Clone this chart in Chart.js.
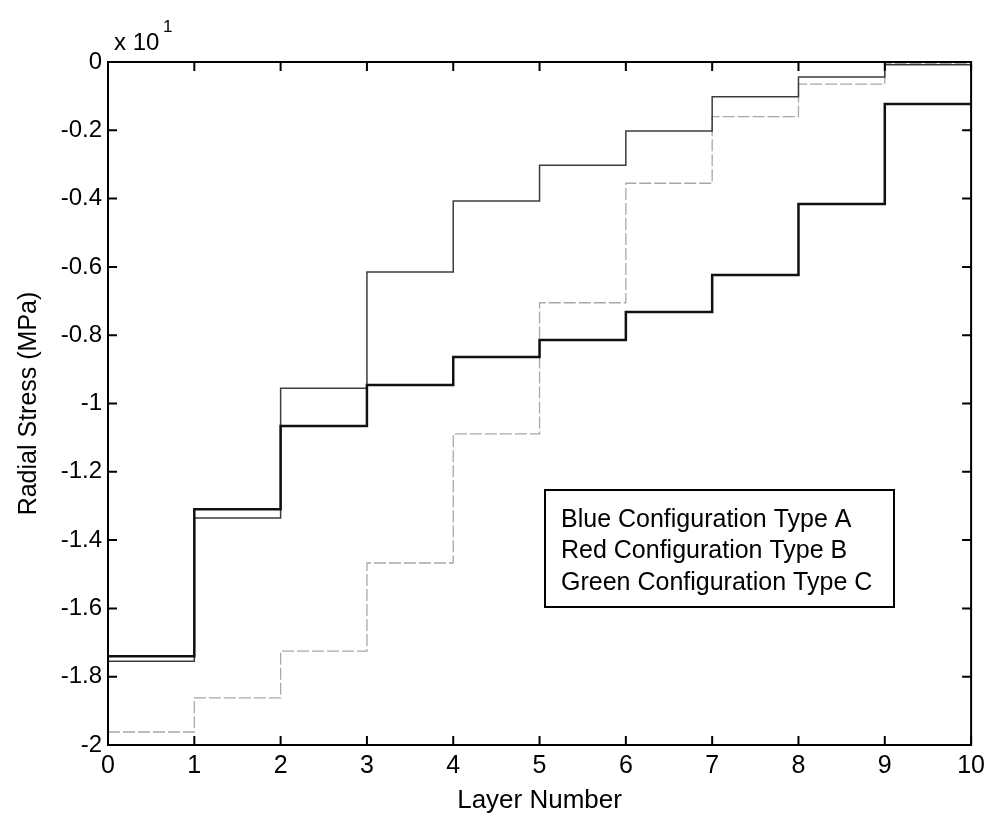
<!DOCTYPE html>
<html>
<head>
<meta charset="utf-8">
<script src="https://cdn.jsdelivr.net/npm/chart.js@4/dist/chart.umd.min.js"></script>
<style>
  html, body { margin: 0; padding: 0; background: #fff; }
  #wrap { width: 991px; height: 814px; }
</style>
</head>
<body>
<div id="wrap"><canvas id="stress"></canvas></div>
<script>
// layer boundaries and stress per layer (x 10 MPa), one value per layer 0..9
const layers = [0, 1, 2, 3, 4, 5, 6, 7, 8, 9, 10];
const typeA = [-1.74, -1.31, -1.066, -0.946, -0.864, -0.814, -0.732, -0.624, -0.416, -0.123];
const typeB = [-1.755, -1.335, -0.955, -0.615, -0.407, -0.302, -0.202, -0.102, -0.044, -0.008];
const typeC = [-1.962, -1.862, -1.725, -1.467, -1.089, -0.705, -0.355, -0.16, -0.065, -0.005];
const legendLabels = ['Blue Configuration Type A', 'Red Configuration Type B', 'Green Configuration Type C'];
const yTicks = [0, -0.2, -0.4, -0.6, -0.8, -1, -1.2, -1.4, -1.6, -1.8, -2];

const FONT = '"Liberation Sans", Arial, Helvetica, sans-serif';

// each layer value holds until the next boundary, so repeat the last one at x=10
function steps(vals) {
  return layers.map((x, i) => ({ x: x, y: vals[Math.min(i, vals.length - 1)] }));
}

// MATLAB style frame: full box, inward ticks, exponent label, boxed legend
const framePlugin = {
  id: 'frame',
  afterDraw(chart) {
    const { ctx, chartArea: a, scales } = chart;
    const xs = scales.x, ys = scales.y;
    const tl = 9;
    ctx.save();
    ctx.strokeStyle = '#000';
    ctx.lineWidth = 2;
    ctx.strokeRect(a.left, a.top, a.right - a.left, a.bottom - a.top);

    ctx.beginPath();
    layers.forEach(v => {
      const px = xs.getPixelForValue(v);
      ctx.moveTo(px, a.bottom); ctx.lineTo(px, a.bottom - tl);
      ctx.moveTo(px, a.top); ctx.lineTo(px, a.top + tl);
    });
    yTicks.forEach(v => {
      const py = ys.getPixelForValue(v);
      ctx.moveTo(a.left, py); ctx.lineTo(a.left + tl, py);
      ctx.moveTo(a.right, py); ctx.lineTo(a.right - tl, py);
    });
    ctx.stroke();

    // exponent above the y axis
    ctx.fillStyle = '#000';
    ctx.textBaseline = 'alphabetic';
    ctx.textAlign = 'left';
    ctx.font = '24px ' + FONT;
    ctx.fillText('x 10', a.left + 6, a.top - 12);
    ctx.font = '17px ' + FONT;
    ctx.fillText('1', a.left + 55, a.top - 30);

    // legend box
    const bx = 545, by = 490, bw = 349, bh = 117;
    ctx.fillStyle = '#fff';
    ctx.fillRect(bx, by, bw, bh);
    ctx.lineWidth = 2;
    ctx.strokeRect(bx, by, bw, bh);
    ctx.fillStyle = '#000';
    ctx.font = '25px ' + FONT;
    ctx.textBaseline = 'middle';
    legendLabels.forEach((t, i) => ctx.fillText(t, bx + 16, by + 30 + i * 31.5));
    ctx.restore();
  }
};

new Chart(document.getElementById('stress'), {
  type: 'line',
  data: {
    datasets: [
      {
        label: legendLabels[0],
        data: steps(typeA),
        stepped: true,
        borderColor: '#111',
        borderWidth: 2.5,
        pointRadius: 0,
        fill: false
      },
      {
        label: legendLabels[1],
        data: steps(typeB),
        stepped: true,
        borderColor: '#3c3c3c',
        borderWidth: 1.5,
        pointRadius: 0,
        fill: false
      },
      {
        label: legendLabels[2],
        data: steps(typeC),
        stepped: true,
        borderColor: '#a8a8a8',
        borderWidth: 1.3,
        borderDash: [12, 3],
        pointRadius: 0,
        fill: false
      }
    ]
  },
  options: {
    responsive: true,
    maintainAspectRatio: false,
    animation: false,
    layout: { padding: { top: 62, right: 13, left: 0, bottom: 0 } },
    plugins: { legend: { display: false }, tooltip: { enabled: false } },
    scales: {
      x: {
        type: 'linear',
        min: 0,
        max: 10,
        grid: { display: false, drawTicks: false },
        border: { display: true, color: '#000', width: 2 },
        ticks: { stepSize: 1, color: '#000', padding: 6, maxRotation: 0, font: { family: FONT, size: 25 } },
        title: { display: true, text: 'Layer Number', color: '#000', padding: 0, font: { family: FONT, size: 26, lineHeight: 1 } },
        afterFit(scale) { scale.height = 69; }
      },
      y: {
        type: 'linear',
        min: -2,
        max: 0,
        grid: { display: false, drawTicks: false },
        border: { display: true, color: '#000', width: 2 },
        afterBuildTicks(scale) { scale.ticks = yTicks.map(v => ({ value: v })); },
        ticks: {
          color: '#000',
          padding: 6,
          font: { family: FONT, size: 24 },
          callback: v => String(Number(v.toFixed(1)))
        },
        title: { display: true, text: 'Radial Stress (MPa)', color: '#000', padding: { top: 17, bottom: 0 }, font: { family: FONT, size: 25, lineHeight: 1 } },
        afterFit(scale) { scale.width = 108; }
      }
    }
  },
  plugins: [framePlugin]
});
</script>
</body>
</html>
